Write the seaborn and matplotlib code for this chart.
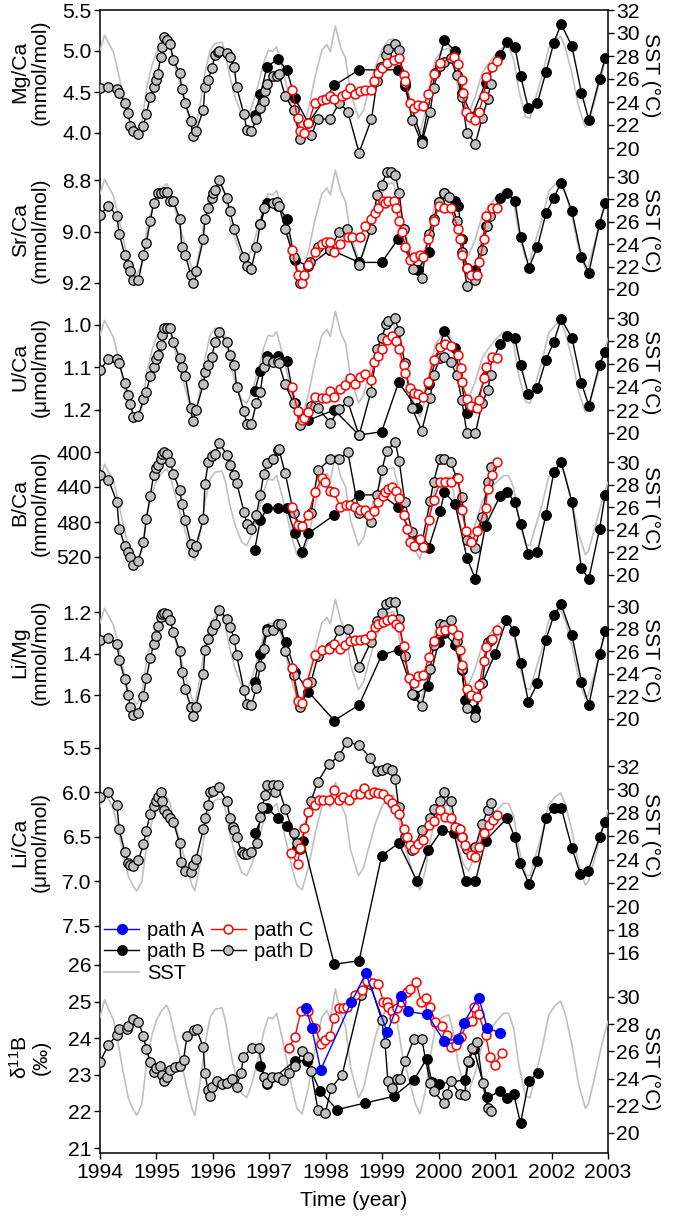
import matplotlib
matplotlib.use("Agg")
import matplotlib.pyplot as plt
import seaborn as sns
from matplotlib.lines import Line2D

# ---------------- data (time in decimal years) ----------------
sst = [(1994.00, 28.5), (1994.08, 29.8), (1994.24, 28.3), (1994.33, 26.4), (1994.41, 24.5), (1994.50, 22.6),
       (1994.59, 21.7), (1994.65, 21.3), (1994.74, 22.1), (1994.83, 25.3), (1994.92, 27.2), (1995.00, 28.3),
       (1995.09, 29.0), (1995.18, 29.4), (1995.24, 28.8), (1995.33, 27.1), (1995.45, 25.0), (1995.54, 23.3),
       (1995.63, 21.8), (1995.68, 21.3), (1995.77, 23.6), (1995.86, 26.5), (1995.95, 28.5), (1996.04, 29.1),
       (1996.16, 29.2), (1996.22, 28.3), (1996.30, 26.2), (1996.39, 24.5), (1996.51, 22.9), (1996.60, 22.6),
       (1996.69, 23.6), (1996.81, 25.6), (1996.90, 27.4), (1996.98, 28.5), (1997.06, 28.4), (1997.13, 28.8),
       (1997.22, 27.1), (1997.31, 25.3), (1997.40, 23.3), (1997.49, 21.8), (1997.58, 21.4), (1997.69, 23.3),
       (1997.81, 26.2), (1997.93, 28.5), (1998.02, 29.0), (1998.08, 28.4), (1998.17, 30.6), (1998.26, 28.8),
       (1998.35, 27.8), (1998.44, 24.8), (1998.58, 22.6), (1998.67, 23.3), (1998.76, 25.0), (1998.88, 27.1),
       (1998.99, 28.5), (1999.11, 29.4), (1999.20, 29.5), (1999.26, 28.3), (1999.35, 25.9), (1999.47, 24.0),
       (1999.59, 22.1), (1999.67, 21.4), (1999.76, 23.0), (1999.85, 25.6), (1999.94, 27.7), (2000.06, 28.5),
       (2000.18, 28.7), (2000.26, 27.4), (2000.35, 25.0), (2000.44, 23.6), (2000.53, 23.0), (2000.65, 24.5),
       (2000.77, 26.5), (2000.89, 27.4), (2001.00, 28.1), (2001.15, 28.8), (2001.24, 28.8), (2001.33, 27.7),
       (2001.42, 25.0), (2001.54, 22.7), (2001.62, 22.6), (2001.71, 24.2), (2001.83, 26.2), (2001.95, 28.7),
       (2002.07, 29.4), (2002.16, 29.7), (2002.24, 28.8), (2002.36, 26.5), (2002.48, 23.6), (2002.60, 21.8),
       (2002.65, 22.1), (2002.77, 24.2), (2002.89, 26.5), (2002.98, 27.9), (2003.00, 28.2)]

# Mg/Ca (mmol/mol)
mgca_B = [(1996.74, 4.22), (1996.84, 4.47), (1996.96, 4.81), (1997.15, 4.90), (1997.31, 4.77), (1997.45, 4.43),
          (1997.69, 4.12), (1998.15, 4.58), (1998.59, 4.77), (1999.28, 4.77), (1999.41, 4.57), (1999.70, 3.92),
          (1999.94, 4.73), (2000.10, 5.13), (2000.29, 5.00), (2000.41, 4.49), (2000.59, 4.20), (2000.83, 4.61),
          (2001.09, 4.95), (2001.21, 5.11), (2001.35, 5.05), (2001.45, 4.70), (2001.59, 4.30), (2001.75, 4.37),
          (2001.90, 4.74), (2002.04, 5.10), (2002.17, 5.33), (2002.36, 5.06), (2002.53, 4.49), (2002.66, 4.16),
          (2002.85, 4.66), (2002.95, 4.92)]
mgca_C = [(1997.40, 4.53), (1997.50, 4.18), (1997.55, 4.02), (1997.62, 4.00), (1997.69, 4.12), (1997.81, 4.37),
          (1997.93, 4.40), (1998.01, 4.41), (1998.08, 4.45), (1998.14, 4.41), (1998.29, 4.45), (1998.36, 4.47),
          (1998.43, 4.55), (1998.52, 4.47), (1998.61, 4.51), (1998.69, 4.52), (1998.80, 4.52), (1998.86, 4.64),
          (1998.92, 4.73), (1998.99, 4.79), (1999.08, 4.85), (1999.20, 4.89), (1999.30, 4.91), (1999.38, 4.71),
          (1999.41, 4.63), (1999.50, 4.37), (1999.57, 4.30), (1999.64, 4.34), (1999.73, 4.33), (1999.81, 4.47),
          (1999.91, 4.72), (2000.03, 4.85), (2000.27, 4.93), (2000.35, 4.84), (2000.41, 4.65), (2000.43, 4.49),
          (2000.48, 4.26), (2000.56, 4.20), (2000.65, 4.16), (2000.71, 4.26), (2000.80, 4.45), (2000.84, 4.68),
          (2000.95, 4.81), (2001.03, 4.88)]
mgca_D = [(1994.00, 4.55), (1994.15, 4.56), (1994.30, 4.54), (1994.34, 4.49), (1994.44, 4.37), (1994.50, 4.24),
          (1994.54, 4.09), (1994.59, 4.02), (1994.68, 3.99), (1994.77, 4.09), (1994.82, 4.23), (1994.89, 4.44),
          (1994.95, 4.56), (1994.99, 4.65), (1995.02, 4.72), (1995.08, 4.93), (1995.09, 5.05), (1995.14, 5.17),
          (1995.18, 5.14), (1995.24, 5.09), (1995.30, 4.89), (1995.41, 4.73), (1995.45, 4.54), (1995.51, 4.37),
          (1995.61, 4.15), (1995.64, 3.96), (1995.70, 4.02), (1995.83, 4.28), (1995.86, 4.56), (1995.92, 4.65),
          (1995.98, 4.79), (1996.04, 4.95), (1996.09, 4.99), (1996.11, 5.00), (1996.25, 4.98), (1996.30, 4.93),
          (1996.38, 4.80), (1996.42, 4.56), (1996.55, 4.23), (1996.60, 4.04), (1996.68, 4.02), (1996.77, 4.17),
          (1996.84, 4.30), (1996.90, 4.39), (1996.93, 4.51), (1996.96, 4.60), (1997.07, 4.69), (1997.13, 4.70),
          (1997.17, 4.72), (1997.28, 4.45), (1997.43, 4.28), (1997.55, 3.93), (1997.74, 3.97), (1997.86, 4.17),
          (1998.08, 4.17), (1998.24, 4.37), (1998.39, 4.26), (1998.59, 3.76), (1998.81, 4.17), (1998.91, 4.64),
          (1998.98, 4.80), (1999.07, 4.95), (1999.11, 5.03), (1999.23, 5.09), (1999.29, 5.01), (1999.40, 4.61),
          (1999.53, 4.16), (1999.70, 3.88), (1999.85, 4.26), (1999.91, 4.55), (2000.02, 4.82), (2000.10, 4.87),
          (2000.21, 4.91), (2000.32, 4.71), (2000.41, 4.44), (2000.50, 4.00), (2000.65, 3.87), (2000.77, 4.18),
          (2000.87, 4.42), (2000.92, 4.60)]

# Sr/Ca (mmol/mol)
srca_B = [(1996.84, 8.97), (1996.96, 8.89), (1997.15, 8.90), (1997.31, 8.95), (1997.45, 9.11), (1997.69, 9.135),
          (1998.08, 9.07), (1998.59, 9.12), (1998.99, 9.12), (1999.28, 9.03), (1999.63, 9.15), (1999.82, 9.08),
          (2000.00, 8.885), (2000.10, 8.85), (2000.29, 8.88), (2000.35, 8.90), (2000.41, 9.03), (2000.50, 9.14),
          (2000.65, 9.15), (2000.83, 8.98), (2001.09, 8.87), (2001.21, 8.85), (2001.35, 8.88), (2001.45, 9.02),
          (2001.60, 9.14), (2001.75, 9.06), (2001.90, 8.93), (2002.04, 8.87), (2002.17, 8.81), (2002.36, 8.92),
          (2002.53, 9.10), (2002.66, 9.16), (2002.85, 8.97), (2002.95, 8.89)]
srca_C = [(1997.40, 9.07), (1997.50, 9.17), (1997.58, 9.20), (1997.62, 9.17), (1997.69, 9.13), (1997.81, 9.08),
          (1997.93, 9.05), (1998.01, 9.04), (1998.08, 9.04), (1998.14, 9.08), (1998.26, 9.05), (1998.40, 9.02),
          (1998.46, 9.02), (1998.61, 9.02), (1998.69, 8.98), (1998.80, 8.95), (1998.88, 8.93), (1998.92, 8.91),
          (1999.01, 8.88), (1999.05, 8.89), (1999.11, 8.88), (1999.20, 8.88), (1999.24, 8.91), (1999.30, 8.96),
          (1999.35, 9.00), (1999.41, 9.06), (1999.50, 9.11), (1999.57, 9.10), (1999.67, 9.09), (1999.73, 9.10),
          (1999.81, 9.03), (1999.91, 8.96), (2000.00, 8.90), (2000.09, 8.91), (2000.21, 8.91), (2000.35, 8.99),
          (2000.38, 9.03), (2000.41, 9.09), (2000.50, 9.14), (2000.58, 9.17), (2000.68, 9.17), (2000.72, 9.12),
          (2000.80, 9.03), (2000.84, 8.94), (2000.94, 8.91), (2001.03, 8.91)]
srca_D = [(1994.00, 8.935), (1994.15, 8.90), (1994.30, 8.94), (1994.34, 9.01), (1994.44, 9.09), (1994.50, 9.13),
          (1994.54, 9.155), (1994.59, 9.19), (1994.68, 9.19), (1994.77, 9.09), (1994.82, 9.045), (1994.89, 8.96),
          (1994.95, 8.89), (1995.02, 8.85), (1995.08, 8.85), (1995.14, 8.845), (1995.18, 8.845), (1995.24, 8.88),
          (1995.30, 8.88), (1995.41, 8.95), (1995.45, 9.06), (1995.51, 9.09), (1995.61, 9.17), (1995.64, 9.20),
          (1995.70, 9.155), (1995.83, 9.03), (1995.86, 8.95), (1995.92, 8.91), (1995.98, 8.87), (1996.01, 8.85),
          (1996.04, 8.84), (1996.11, 8.80), (1996.25, 8.87), (1996.30, 8.92), (1996.38, 8.99), (1996.55, 9.10),
          (1996.60, 9.135), (1996.68, 9.145), (1996.77, 9.06), (1996.84, 8.97), (1996.90, 8.91), (1997.07, 8.89),
          (1997.13, 8.885), (1997.17, 8.90), (1997.28, 8.99), (1997.43, 9.10), (1997.55, 9.20), (1997.72, 9.12),
          (1997.86, 9.06), (1998.08, 9.07), (1998.24, 9.00), (1998.37, 8.99), (1998.59, 9.13), (1998.80, 8.99),
          (1998.91, 8.86), (1998.99, 8.82), (1999.08, 8.77), (1999.16, 8.77), (1999.23, 8.78), (1999.30, 8.85),
          (1999.38, 8.99), (1999.54, 9.145), (1999.70, 9.18), (1999.82, 9.01), (1999.91, 8.95), (2000.00, 8.885),
          (2000.09, 8.85), (2000.18, 8.865), (2000.33, 8.96), (2000.41, 9.08), (2000.50, 9.21), (2000.65, 9.19),
          (2000.77, 9.07), (2000.86, 8.98), (2000.91, 8.94)]

# U/Ca (umol/mol)
uca_B = [(1996.74, 1.155), (1996.84, 1.108), (1996.96, 1.072), (1997.15, 1.072), (1997.31, 1.085), (1997.45, 1.184),
         (1997.69, 1.224), (1998.15, 1.20), (1998.59, 1.259), (1998.99, 1.251), (1999.29, 1.135), (1999.62, 1.196),
         (1999.82, 1.14), (2000.10, 1.014), (2000.29, 1.053), (2000.50, 1.208), (2000.65, 1.192), (2000.83, 1.12),
         (2001.09, 1.045), (2001.21, 1.025), (2001.35, 1.031), (2001.45, 1.094), (2001.59, 1.163), (2001.75, 1.149),
         (2001.90, 1.082), (2002.04, 1.04), (2002.17, 0.986), (2002.36, 1.03), (2002.53, 1.137), (2002.66, 1.19),
         (2002.85, 1.093), (2002.95, 1.063)]
uca_C = [(1997.40, 1.145), (1997.50, 1.202), (1997.58, 1.224), (1997.62, 1.22), (1997.69, 1.204), (1997.81, 1.169),
         (1997.93, 1.171), (1998.01, 1.171), (1998.08, 1.155), (1998.14, 1.169), (1998.26, 1.15), (1998.34, 1.141),
         (1998.43, 1.124), (1998.52, 1.14), (1998.61, 1.122), (1998.69, 1.116), (1998.80, 1.129), (1998.86, 1.088),
         (1998.92, 1.072), (1998.99, 1.056), (1999.08, 1.035), (1999.17, 1.025), (1999.24, 1.038), (1999.30, 1.056),
         (1999.38, 1.094), (1999.41, 1.114), (1999.50, 1.149), (1999.57, 1.161), (1999.64, 1.163), (1999.73, 1.169),
         (1999.81, 1.133), (1999.91, 1.082), (2000.03, 1.051), (2000.12, 1.045), (2000.21, 1.049), (2000.35, 1.071),
         (2000.40, 1.102), (2000.41, 1.135), (2000.50, 1.173), (2000.58, 1.19), (2000.68, 1.195), (2000.72, 1.176),
         (2000.80, 1.124), (2000.84, 1.098), (2000.94, 1.075), (2001.03, 1.077)]
uca_D = [(1994.00, 1.106), (1994.15, 1.08), (1994.30, 1.08), (1994.34, 1.09), (1994.44, 1.137), (1994.50, 1.165),
         (1994.54, 1.186), (1994.59, 1.216), (1994.68, 1.213), (1994.77, 1.175), (1994.82, 1.157), (1994.89, 1.12),
         (1994.95, 1.10), (1994.99, 1.08), (1995.02, 1.07), (1995.08, 1.047), (1995.09, 1.024), (1995.14, 1.006),
         (1995.18, 1.006), (1995.24, 1.006), (1995.30, 1.04), (1995.41, 1.077), (1995.45, 1.098), (1995.51, 1.12),
         (1995.61, 1.196), (1995.64, 1.226), (1995.70, 1.20), (1995.83, 1.14), (1995.86, 1.11), (1995.92, 1.094),
         (1995.98, 1.075), (1996.04, 1.04), (1996.11, 1.017), (1996.25, 1.04), (1996.30, 1.07), (1996.38, 1.094),
         (1996.42, 1.145), (1996.55, 1.202), (1996.60, 1.234), (1996.68, 1.234), (1996.77, 1.184), (1996.84, 1.158),
         (1996.90, 1.10), (1996.96, 1.082), (1997.07, 1.088), (1997.15, 1.085), (1997.17, 1.09), (1997.28, 1.14),
         (1997.43, 1.184), (1997.55, 1.235), (1997.74, 1.19), (1997.86, 1.195), (1998.08, 1.23), (1998.24, 1.198),
         (1998.39, 1.18), (1998.59, 1.26), (1998.80, 1.157), (1998.91, 1.056), (1998.99, 1.031), (1999.07, 0.998),
         (1999.11, 0.99), (1999.23, 0.984), (1999.29, 1.014), (1999.40, 1.09), (1999.53, 1.196), (1999.70, 1.249),
         (1999.85, 1.171), (1999.91, 1.118), (2000.02, 1.078), (2000.10, 1.075), (2000.21, 1.086), (2000.32, 1.118),
         (2000.41, 1.176), (2000.50, 1.255), (2000.65, 1.255), (2000.77, 1.184), (2000.87, 1.153), (2000.92, 1.118)]

# B/Ca
bca_B = [(1996.74, 512), (1996.84, 478), (1996.96, 464), (1997.15, 464), (1997.31, 464), (1997.45, 493),
         (1997.58, 514), (1997.69, 493), (1998.15, 472), (1998.59, 449), (1998.99, 449), (1999.28, 463),
         (1999.59, 503), (1999.82, 510), (2000.03, 467), (2000.10, 446), (2000.29, 459), (2000.50, 521),
         (2000.65, 545), (2000.83, 484), (2001.09, 450), (2001.21, 446), (2001.35, 457), (2001.45, 482),
         (2001.59, 516), (2001.75, 514), (2001.90, 472), (2002.04, 423), (2002.17, 411), (2002.36, 457),
         (2002.53, 533), (2002.66, 545), (2002.85, 488), (2002.95, 449)]
bca_C = [(1997.40, 463), (1997.50, 483), (1997.58, 485), (1997.69, 472), (1997.81, 446), (1997.93, 430),
         (1997.99, 434), (1998.08, 444), (1998.14, 446), (1998.26, 463), (1998.36, 461), (1998.43, 461),
         (1998.52, 463), (1998.61, 466), (1998.69, 466), (1998.76, 472), (1998.86, 467), (1998.92, 457),
         (1999.01, 450), (1999.05, 446), (1999.11, 442), (1999.17, 440), (1999.24, 445), (1999.30, 453),
         (1999.38, 472), (1999.44, 488), (1999.50, 503), (1999.57, 507), (1999.67, 499), (1999.73, 509),
         (1999.82, 478), (1999.91, 455), (2000.03, 434), (2000.12, 434), (2000.21, 434), (2000.35, 430),
         (2000.41, 466), (2000.48, 490), (2000.58, 503), (2000.68, 490), (2000.83, 464), (2000.87, 442),
         (2000.94, 426), (2001.03, 411)]
bca_D = [(1994.00, 426), (1994.15, 432), (1994.30, 457), (1994.34, 488), (1994.44, 507), (1994.50, 514),
         (1994.54, 520), (1994.59, 529), (1994.68, 524), (1994.77, 503), (1994.82, 477), (1994.89, 450),
         (1994.95, 426), (1994.99, 418), (1995.02, 415), (1995.08, 408), (1995.09, 402), (1995.14, 400),
         (1995.18, 402), (1995.24, 411), (1995.30, 425), (1995.41, 443), (1995.45, 459), (1995.51, 478),
         (1995.61, 505), (1995.64, 514), (1995.70, 507), (1995.83, 477), (1995.86, 436), (1995.92, 411),
         (1995.98, 404), (1996.04, 402), (1996.11, 390), (1996.25, 403), (1996.30, 415), (1996.38, 426),
         (1996.42, 435), (1996.55, 468), (1996.60, 482), (1996.68, 488), (1996.77, 472), (1996.84, 449),
         (1996.90, 425), (1996.96, 413), (1997.07, 408), (1997.15, 398), (1997.17, 397), (1997.28, 424),
         (1997.43, 470), (1997.55, 485), (1997.74, 470), (1997.86, 421), (1998.08, 408), (1998.24, 408),
         (1998.39, 400), (1998.59, 470), (1998.80, 480), (1998.91, 449), (1998.99, 421), (1999.08, 399),
         (1999.23, 388), (1999.30, 410), (1999.40, 457), (1999.53, 491), (1999.70, 505), (1999.85, 456),
         (1999.91, 434), (2000.02, 408), (2000.10, 408), (2000.21, 411), (2000.32, 430), (2000.41, 451),
         (2000.50, 501), (2000.65, 510), (2000.77, 474), (2000.87, 434), (2000.92, 417)]

# Li/Mg (mmol/mol)
limg_B = [(1996.74, 1.536), (1996.84, 1.403), (1996.96, 1.28), (1997.15, 1.264), (1997.29, 1.344), (1997.46, 1.488),
          (1997.69, 1.584), (1998.15, 1.723), (1998.59, 1.648), (1998.99, 1.408), (1999.29, 1.381), (1999.56, 1.60),
          (1999.81, 1.557), (2000.00, 1.344), (2000.10, 1.30), (2000.29, 1.36), (2000.41, 1.48), (2000.47, 1.624),
          (2000.65, 1.672), (2000.77, 1.544), (2001.00, 1.40), (2001.20, 1.24), (2001.33, 1.291), (2001.45, 1.445),
          (2001.59, 1.632), (2001.75, 1.544), (2001.90, 1.333), (2002.04, 1.216), (2002.17, 1.163), (2002.36, 1.312),
          (2002.53, 1.536), (2002.66, 1.648), (2002.85, 1.403), (2002.95, 1.291)]
limg_C = [(1997.40, 1.472), (1997.50, 1.627), (1997.58, 1.637), (1997.66, 1.544), (1997.81, 1.408), (1997.93, 1.384),
          (1998.05, 1.376), (1998.14, 1.352), (1998.26, 1.376), (1998.34, 1.36), (1998.43, 1.339), (1998.52, 1.336),
          (1998.61, 1.336), (1998.69, 1.328), (1998.80, 1.312), (1998.88, 1.272), (1998.93, 1.256), (1999.01, 1.248),
          (1999.08, 1.24), (1999.17, 1.232), (1999.24, 1.256), (1999.30, 1.272), (1999.38, 1.365), (1999.47, 1.52),
          (1999.56, 1.541), (1999.64, 1.509), (1999.73, 1.504), (1999.82, 1.419), (1999.91, 1.339), (2000.03, 1.291),
          (2000.12, 1.285), (2000.24, 1.28), (2000.35, 1.312), (2000.38, 1.381), (2000.41, 1.456), (2000.50, 1.573),
          (2000.58, 1.60), (2000.68, 1.611), (2000.72, 1.552), (2000.80, 1.435), (2000.84, 1.368), (2000.94, 1.328),
          (2001.03, 1.288)]
limg_D = [(1994.00, 1.333), (1994.15, 1.323), (1994.30, 1.352), (1994.34, 1.429), (1994.44, 1.525), (1994.50, 1.60),
          (1994.54, 1.659), (1994.59, 1.696), (1994.68, 1.688), (1994.77, 1.605), (1994.82, 1.52), (1994.89, 1.424),
          (1994.95, 1.355), (1994.99, 1.317), (1995.02, 1.269), (1995.08, 1.224), (1995.09, 1.211), (1995.14, 1.205),
          (1995.18, 1.211), (1995.24, 1.24), (1995.30, 1.296), (1995.41, 1.387), (1995.45, 1.488), (1995.51, 1.573),
          (1995.61, 1.656), (1995.64, 1.70), (1995.70, 1.656), (1995.83, 1.499), (1995.86, 1.384), (1995.92, 1.328),
          (1995.98, 1.288), (1996.04, 1.256), (1996.11, 1.192), (1996.25, 1.232), (1996.30, 1.272), (1996.38, 1.328),
          (1996.42, 1.408), (1996.55, 1.576), (1996.60, 1.643), (1996.68, 1.648), (1996.77, 1.568), (1996.84, 1.461),
          (1996.90, 1.376), (1996.96, 1.293), (1997.07, 1.288), (1997.15, 1.259), (1997.21, 1.259), (1997.28, 1.387),
          (1997.43, 1.504), (1997.55, 1.656), (1997.74, 1.536), (1997.86, 1.413), (1998.08, 1.368), (1998.24, 1.288),
          (1998.39, 1.28), (1998.59, 1.464), (1998.80, 1.344), (1998.91, 1.243), (1998.99, 1.205), (1999.07, 1.16),
          (1999.14, 1.152), (1999.23, 1.152), (1999.29, 1.232), (1999.40, 1.413), (1999.53, 1.595), (1999.70, 1.653),
          (1999.85, 1.477), (1999.91, 1.36), (2000.02, 1.256), (2000.10, 1.264), (2000.21, 1.24), (2000.32, 1.339),
          (2000.41, 1.477), (2000.50, 1.664), (2000.65, 1.704), (2000.77, 1.544), (2000.87, 1.344), (2000.92, 1.333)]

# Li/Ca (umol/mol)
lica_B = [(1996.74, 6.46), (1996.96, 6.17), (1997.15, 6.29), (1997.31, 6.38), (1997.49, 6.62), (1997.60, 6.55),
          (1998.15, 7.93), (1998.59, 7.89), (1998.99, 6.71), (1999.29, 6.57), (1999.62, 7.00), (1999.81, 6.65),
          (2000.06, 6.42), (2000.27, 6.46), (2000.48, 7.00), (2000.65, 7.00), (2000.83, 6.54), (2001.21, 6.29),
          (2001.35, 6.50), (2001.44, 6.79), (2001.60, 7.03), (2001.75, 6.77), (2001.90, 6.29), (2002.04, 6.17),
          (2002.17, 6.17), (2002.36, 6.62), (2002.51, 6.92), (2002.65, 6.88), (2002.85, 6.50), (2002.95, 6.33)]
lica_C = [(1997.39, 6.68), (1997.50, 6.80), (1997.55, 6.62), (1997.62, 6.40), (1997.69, 6.22), (1997.81, 6.14),
          (1997.88, 6.085), (1997.95, 6.085), (1998.05, 6.08), (1998.14, 5.97), (1998.23, 6.085), (1998.31, 6.05),
          (1998.41, 6.085), (1998.51, 6.02), (1998.61, 6.02), (1998.67, 5.95), (1998.76, 6.02), (1998.86, 5.99),
          (1998.93, 6.01), (1999.02, 6.02), (1999.10, 6.07), (1999.17, 6.12), (1999.23, 6.19), (1999.30, 6.24),
          (1999.38, 6.41), (1999.44, 6.50), (1999.50, 6.59), (1999.57, 6.64), (1999.64, 6.58), (1999.73, 6.53),
          (1999.82, 6.37), (1999.91, 6.32), (2000.03, 6.20), (2000.12, 6.27), (2000.21, 6.29), (2000.29, 6.39),
          (2000.38, 6.41), (2000.41, 6.50), (2000.47, 6.59), (2000.58, 6.70), (2000.65, 6.72), (2000.72, 6.61),
          (2000.80, 6.46), (2000.89, 6.37), (2000.96, 6.31), (2001.03, 6.25)]
lica_D = [(1994.00, 6.05), (1994.15, 6.00), (1994.30, 6.14), (1994.34, 6.41), (1994.44, 6.67), (1994.50, 6.79),
          (1994.54, 6.82), (1994.59, 6.83), (1994.68, 6.76), (1994.77, 6.58), (1994.82, 6.43), (1994.89, 6.24),
          (1994.95, 6.15), (1994.99, 6.09), (1995.02, 6.05), (1995.08, 6.00), (1995.09, 6.10), (1995.14, 6.20),
          (1995.18, 6.24), (1995.24, 6.29), (1995.30, 6.33), (1995.41, 6.57), (1995.44, 6.78), (1995.51, 6.88),
          (1995.61, 6.89), (1995.64, 6.82), (1995.70, 6.75), (1995.83, 6.41), (1995.86, 6.29), (1995.92, 6.14),
          (1995.95, 5.99), (1996.01, 5.98), (1996.10, 5.94), (1996.25, 6.10), (1996.30, 6.29), (1996.35, 6.39),
          (1996.38, 6.42), (1996.42, 6.50), (1996.51, 6.67), (1996.55, 6.69), (1996.60, 6.69), (1996.68, 6.67),
          (1996.78, 6.57), (1996.84, 6.27), (1996.87, 6.16), (1996.93, 6.03), (1996.96, 5.92), (1997.07, 5.92),
          (1997.10, 6.00), (1997.15, 5.92), (1997.28, 6.18), (1997.43, 6.46), (1997.49, 6.57), (1997.55, 6.63),
          (1997.74, 6.09), (1997.86, 5.88), (1998.05, 5.68), (1998.24, 5.59), (1998.37, 5.43), (1998.59, 5.47),
          (1998.79, 5.61), (1998.91, 5.76), (1998.99, 5.75), (1999.08, 5.73), (1999.17, 5.75), (1999.23, 5.85),
          (1999.29, 6.16), (1999.40, 6.50), (1999.53, 6.65), (1999.70, 6.42), (1999.85, 6.29), (1999.91, 6.19),
          (2000.02, 6.09), (2000.10, 6.00), (2000.21, 6.09), (2000.32, 6.40), (2000.41, 6.50), (2000.50, 6.63),
          (2000.65, 6.61), (2000.77, 6.35), (2000.87, 6.20), (2000.92, 6.12)]

# delta 11B (permil)
d11b_A = [(1997.65, 24.82), (1997.75, 24.29), (1997.91, 23.14), (1998.45, 24.98), (1998.71, 25.77), (1999.09, 24.16),
          (1999.33, 25.14), (1999.45, 24.73), (1999.80, 24.65), (2000.09, 23.93), (2000.35, 23.97), (2000.44, 24.41),
          (2000.71, 25.11), (2000.86, 24.29), (2001.09, 24.14)]
d11b_B = [(1996.84, 23.23), (1996.95, 22.75), (1997.45, 23.38), (1997.66, 23.38), (1997.90, 22.55), (1998.20, 22.05),
          (1998.70, 22.23), (1999.20, 22.41), (1999.56, 22.86), (1999.79, 23.44), (1999.88, 22.80), (2000.00, 22.75),
          (2000.46, 22.86), (2000.53, 23.36), (2000.62, 23.71), (2000.86, 22.38), (2001.09, 22.55), (2001.21, 22.36),
          (2001.33, 22.47), (2001.45, 21.68), (2001.60, 22.84), (2001.76, 23.05)]
d11b_C = [(1997.34, 23.73), (1997.45, 24.02), (1997.56, 24.73), (1997.69, 24.73), (1997.81, 24.27), (1997.92, 23.84),
          (1997.99, 23.95), (1998.08, 24.05), (1998.14, 24.55), (1998.23, 24.82), (1998.30, 24.82), (1998.37, 24.86),
          (1998.52, 25.18), (1998.64, 25.32), (1998.73, 25.56), (1998.83, 25.50), (1998.93, 25.47), (1999.02, 25.00),
          (1999.08, 25.00), (1999.11, 24.84), (1999.17, 24.73), (1999.21, 24.56), (1999.26, 24.82), (1999.34, 25.00),
          (1999.44, 25.27), (1999.50, 25.35), (1999.60, 25.53), (1999.69, 25.00), (1999.77, 25.11), (1999.85, 24.84),
          (1999.94, 24.45), (2000.06, 24.32), (2000.15, 24.09), (2000.22, 23.77), (2000.30, 23.82), (2000.40, 24.02),
          (2000.50, 24.45), (2000.59, 24.47), (2000.62, 24.86), (2000.71, 24.65), (2000.83, 24.09), (2000.91, 23.50),
          (2000.99, 23.27), (2001.12, 23.59)]
d11b_D = [(1994.00, 23.35), (1994.15, 23.82), (1994.30, 24.09), (1994.34, 24.25), (1994.47, 24.25), (1994.50, 24.32),
          (1994.59, 24.53), (1994.68, 24.45), (1994.77, 24.05), (1994.82, 23.71), (1994.89, 23.36), (1994.95, 23.09),
          (1995.00, 23.18), (1995.06, 23.23), (1995.09, 23.00), (1995.13, 22.82), (1995.18, 22.95), (1995.24, 23.14),
          (1995.33, 23.20), (1995.42, 23.25), (1995.48, 23.41), (1995.54, 24.05), (1995.66, 24.23), (1995.71, 24.25),
          (1995.83, 23.75), (1995.86, 23.05), (1995.91, 22.59), (1995.95, 22.41), (1995.99, 22.68), (1996.07, 22.84),
          (1996.16, 22.75), (1996.25, 22.77), (1996.33, 22.89), (1996.42, 22.68), (1996.50, 23.05), (1996.54, 23.50),
          (1996.69, 23.73), (1996.81, 23.73), (1996.91, 22.93), (1996.96, 22.77), (1997.04, 22.95), (1997.16, 22.95),
          (1997.25, 22.86), (1997.34, 23.05), (1997.46, 23.23), (1997.58, 23.64), (1997.69, 23.50), (1997.74, 23.11),
          (1997.86, 22.05), (1997.99, 21.95), (1998.10, 22.65), (1998.29, 23.00), (1998.63, 25.18), (1998.79, 25.47),
          (1998.99, 24.50), (1999.05, 23.86), (1999.10, 22.84), (1999.17, 22.64), (1999.26, 22.89), (1999.32, 22.89),
          (1999.41, 23.38), (1999.56, 23.98), (1999.70, 23.97), (1999.85, 22.77), (1999.91, 22.55), (2000.09, 22.23),
          (2000.15, 22.47), (2000.21, 22.84), (2000.38, 22.47), (2000.46, 22.45), (2000.52, 23.38), (2000.59, 23.73),
          (2000.68, 23.89), (2000.78, 22.77), (2000.87, 22.09), (2000.92, 22.02)]

year_ticks = list(range(1994, 2004))

# ---------------- style ----------------
plt.rcParams['font.family'] = ['Liberation Sans', 'DejaVu Sans']
plt.rcParams['mathtext.fontset'] = 'custom'
plt.rcParams['mathtext.rm'] = 'Liberation Sans'
plt.rcParams['mathtext.it'] = 'Liberation Sans:italic'
FS = 15.2

W, H = 675, 1216
fig = plt.figure(figsize=(W / 100, H / 100), dpi=100)
L, R, T, B = 100, 608, 10, 1153
rect = [L / W, 1 - B / H, (R - L) / W, (B - T) / H]


def lims(v1, y1, v2, y2):
    # axis limits so that value v1 sits at pixel row y1 and v2 at y2
    s = (v2 - v1) / (y2 - y1)
    return v1 + (B - y1) * s, v1 + (T - y1) * s


base = fig.add_axes(rect)
base.set_xlim(1994, 2003)
base.set_xticks(year_ticks)
base.set_xticklabels([str(y) for y in year_ticks])
base.set_yticks([])
base.tick_params(axis='x', direction='out', length=4, width=1, labelsize=FS, pad=3)
for s in base.spines.values():
    s.set_linewidth(1.1)
base.set_xlabel("Time (year)", fontsize=FS, labelpad=7)

GRAY = '#c0c0c0'
styles = {
    'A': dict(color='#0000ff', markerfacecolor='#0000ff', markeredgecolor='#0000ff', markersize=7, markeredgewidth=1),
    'B': dict(color='black', markerfacecolor='black', markeredgecolor='black', markersize=6.8, markeredgewidth=1),
    'C': dict(color='#ff0000', markerfacecolor='white', markeredgecolor='#ff0000', markersize=6.4, markeredgewidth=1.1),
    'D': dict(color='black', markerfacecolor=GRAY, markeredgecolor='black', markersize=6.8, markeredgewidth=0.9),
}

panels = [
    dict(label="Mg/Ca\n(mmol/mol)", ly=72, sy=75, series={'B': mgca_B, 'D': mgca_D, 'C': mgca_C},
         cal=(5.5, 10, 4.0, 133), ticks=[4.0, 4.5, 5.0, 5.5], tl=["4.0", "4.5", "5.0", "5.5"],
         scal=(30, 33, 20, 148), sticks=[20, 22, 24, 26, 28, 30, 32]),
    dict(label="Sr/Ca\n(mmol/mol)", ly=230, sy=230, series={'B': srca_B, 'D': srca_D, 'C': srca_C},
         cal=(8.8, 180, 9.2, 283), ticks=[8.8, 9.0, 9.2], tl=["8.8", "9.0", "9.2"],
         scal=(30, 177, 20, 289), sticks=[20, 22, 24, 26, 28, 30]),
    dict(label="U/Ca\n(\u03bcmol/mol)", ly=367, sy=372, series={'B': uca_B, 'D': uca_D, 'C': uca_C},
         cal=(1.0, 325, 1.2, 410), ticks=[1.0, 1.1, 1.2], tl=["1.0", "1.1", "1.2"],
         scal=(30, 318, 20, 433), sticks=[20, 22, 24, 26, 28, 30]),
    dict(label="B/Ca\n(mmol/mol)", ly=503, sy=508, series={'B': bca_B, 'D': bca_D, 'C': bca_C},
         cal=(400, 452, 520, 557), ticks=[400, 440, 480, 520], tl=["400", "440", "480", "520"],
         scal=(30, 462, 20, 575), sticks=[20, 22, 24, 26, 28, 30]),
    dict(label="Li/Mg\n(mmol/mol)", ly=652, sy=660, series={'B': limg_B, 'D': limg_D, 'C': limg_C},
         cal=(1.2, 612, 1.6, 695), ticks=[1.2, 1.4, 1.6], tl=["1.2", "1.4", "1.6"],
         scal=(30, 606, 20, 719), sticks=[20, 22, 24, 26, 28, 30]),
    dict(label="Li/Ca\n(\u03bcmol/mol)", ly=842, sy=835, series={'B': lica_B, 'D': lica_D, 'C': lica_C},
         cal=(5.5, 748, 7.5, 926), ticks=[5.5, 6.0, 6.5, 7.0, 7.5], tl=["5.5", "6.0", "6.5", "7.0", "7.5"],
         scal=(32, 766, 16, 953), sticks=[16, 18, 20, 22, 24, 26, 28, 30, 32]),
    dict(label="\u03b4$^{11}$B\n(\u2030)", ly=1057, sy=1068,
         series={'B': d11b_B, 'D': d11b_D, 'C': d11b_C, 'A': d11b_A},
         cal=(26, 965, 21, 1148), ticks=[21, 22, 23, 24, 25, 26], tl=["21", "22", "23", "24", "25", "26"],
         scal=(30, 997, 20, 1133), sticks=[20, 22, 24, 26, 28, 30]),
]

for p in panels:
    # SST on its own right-hand scale (drawn first, underneath)
    axs = fig.add_axes(rect)
    axs.patch.set_visible(False)
    for s in axs.spines.values():
        s.set_visible(False)
    st, sv = zip(*sst)
    sns.lineplot(x=list(st), y=list(sv), ax=axs, sort=False, estimator=None, color=GRAY,
                 linewidth=1.2, legend=False)
    axs.set_xlim(1994, 2003)
    axs.set_ylim(*lims(*p['scal']))
    axs.yaxis.tick_right()
    axs.set_yticks(p['sticks'])
    axs.set_yticklabels([str(v) for v in p['sticks']])
    axs.tick_params(axis='y', direction='out', length=4, width=1, labelsize=FS, pad=2)
    axs.tick_params(axis='x', bottom=False, labelbottom=False)
    axs.set_xlabel("")
    axs.set_ylabel("")

    # proxy series on the left-hand scale
    ax = fig.add_axes(rect)
    ax.patch.set_visible(False)
    for s in ax.spines.values():
        s.set_visible(False)
    for key in ['B', 'D', 'C', 'A']:
        if key not in p['series']:
            continue
        t, v = zip(*p['series'][key])
        sns.lineplot(x=list(t), y=list(v), ax=ax, sort=False, estimator=None, marker='o',
                     linewidth=1.0, legend=False, **styles[key])
    ax.set_xlim(1994, 2003)
    ax.set_ylim(*lims(*p['cal']))
    ax.set_yticks(p['ticks'])
    ax.set_yticklabels(p['tl'])
    ax.tick_params(axis='y', direction='out', length=4, width=1, labelsize=FS, pad=2)
    ax.tick_params(axis='x', bottom=False, labelbottom=False)
    ax.set_xlabel("")
    ax.set_ylabel("")

    fig.text(30 / W, 1 - p['ly'] / H, p['label'], rotation=90, ha='center', va='center',
             fontsize=FS, multialignment='center', linespacing=1.05)
    fig.text(651 / W, 1 - p['sy'] / H, "SST (\u00b0C)", rotation=270, ha='center', va='center',
             fontsize=FS)

handles = [
    Line2D([], [], marker='o', linewidth=1.0, **styles['A']),
    Line2D([], [], marker='o', linewidth=1.0, **styles['B']),
    Line2D([], [], color=GRAY, linewidth=1.3),
    Line2D([], [], marker='o', linewidth=1.0, **styles['C']),
    Line2D([], [], marker='o', linewidth=1.0, **styles['D']),
]
labels = ["path A", "path B", "SST", "path C", "path D"]
fig.legend(handles, labels, ncol=2, loc='upper left', bbox_to_anchor=(104 / W, 1 - 921 / H),
           frameon=False, fontsize=14.5, handlelength=1.75, handletextpad=0.4, columnspacing=0.25,
           labelspacing=0.12, borderpad=0, borderaxespad=0)

fig.savefig("out.png", dpi=100)
